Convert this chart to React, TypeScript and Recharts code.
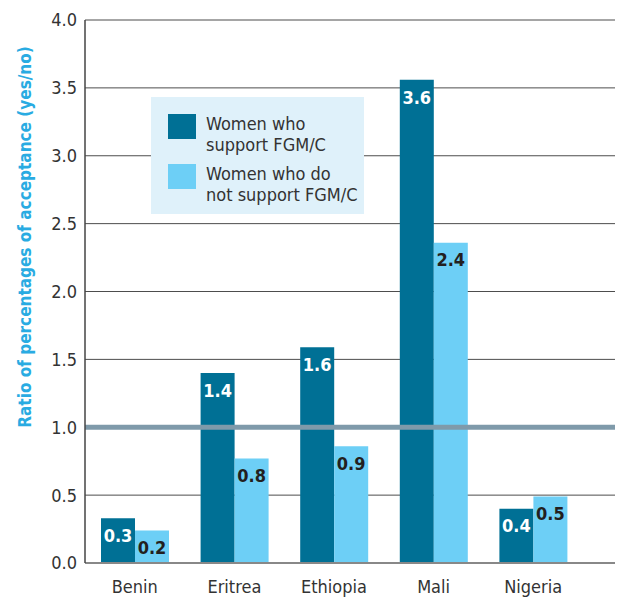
import React from "react";
import {
  BarChart,
  Bar,
  XAxis,
  YAxis,
  CartesianGrid,
  LabelList,
  ReferenceLine,
} from "recharts";

const categories = ["Benin", "Eritrea", "Ethiopia", "Mali", "Nigeria"];
const supportValues = [0.33, 1.4, 1.59, 3.56, 0.4];
const notSupportValues = [0.24, 0.77, 0.86, 2.36, 0.49];
const yTicks = [0, 0.5, 1, 1.5, 2, 2.5, 3, 3.5, 4];
const seriesNames = ["Women who\nsupport FGM/C", "Women who do\nnot support FGM/C"];

const data = categories.map((name, i) => ({
  name,
  support: supportValues[i],
  notSupport: notSupportValues[i],
}));

const FONT = "'Liberation Sans Narrow', 'Arial Narrow', 'DejaVu Sans Condensed', sans-serif";
const DARK = "#007095";
const LIGHT = "#6dcff6";

// legend sits on top of the grid, like the original
function LegendBox() {
  const colors = [DARK, LIGHT];
  return (
    <div
      style={{
        position: "absolute",
        left: 151,
        top: 97,
        background: "#dff1fa",
        width: 213,
        height: 117,
        boxSizing: "border-box",
        padding: "16px 0 0 17px",
        fontFamily: FONT,
        fontSize: 18,
        lineHeight: "21px",
        color: "#333",
      }}
    >
      {seriesNames.map((n, i) => (
        <div key={n} style={{ display: "flex", alignItems: "flex-start", marginBottom: 8 }}>
          <div style={{ width: 28, height: 25, background: colors[i], marginTop: 1, flexShrink: 0 }} />
          <div style={{ marginLeft: 10, whiteSpace: "pre" }}>{n}</div>
        </div>
      ))}
    </div>
  );
}

const fmt = (v: any) => Number(v).toFixed(1);

export default function App() {
  return (
    <div style={{ width: 618, height: 597, position: "relative" }}>
      <style>{"body{margin:0}"}</style>
      <BarChart
        width={618}
        height={597}
        data={data}
        margin={{ top: 20, right: 3, left: 0, bottom: 0 }}
        barGap={0}
      >
        <CartesianGrid vertical={false} stroke="#4d4d4d" strokeWidth={1} />
        <XAxis
          dataKey="name"
          height={34}
          padding={{ left: 0, right: 32 }}
          tickLine={false}
          tickMargin={11}
          axisLine={{ stroke: "#888", strokeWidth: 2 }}
          tick={{ fill: "#333", fontSize: 18, fontFamily: FONT }}
        />
        <YAxis
          width={85}
          domain={[0, 4]}
          ticks={yTicks}
          interval={0}
          tickFormatter={fmt}
          tickLine={false}
          axisLine={{ stroke: "#444", strokeWidth: 1.5 }}
          tick={{ fill: "#333", fontSize: 18, fontFamily: FONT }}
          label={{
            content: () => (
              <text
                x={25}
                y={237}
                transform="rotate(-90 25 237)"
                textAnchor="middle"
                dominantBaseline="central"
                fill="#29abe2"
                fontWeight="bold"
                fontSize={17}
                fontFamily={FONT}
              >
                Ratio of percentages of acceptance (yes/no)
              </text>
            ),
          }}
        />
        <Bar dataKey="support" name={seriesNames[0]} fill={DARK} barSize={34} isAnimationActive={false}>
          <LabelList
            dataKey="support"
            position="insideTop"
            offset={11}
            formatter={fmt}
            fill="#fff"
            fontWeight="bold"
            fontSize={18}
            fontFamily={FONT}
          />
        </Bar>
        <Bar dataKey="notSupport" name={seriesNames[1]} fill={LIGHT} barSize={34} isAnimationActive={false}>
          <LabelList
            dataKey="notSupport"
            position="insideTop"
            offset={11}
            formatter={fmt}
            fill="#231f20"
            fontWeight="bold"
            fontSize={18}
            fontFamily={FONT}
          />
        </Bar>
        <ReferenceLine y={1} stroke="#7f9aaa" strokeWidth={5} />
      </BarChart>
      <LegendBox />
    </div>
  );
}
